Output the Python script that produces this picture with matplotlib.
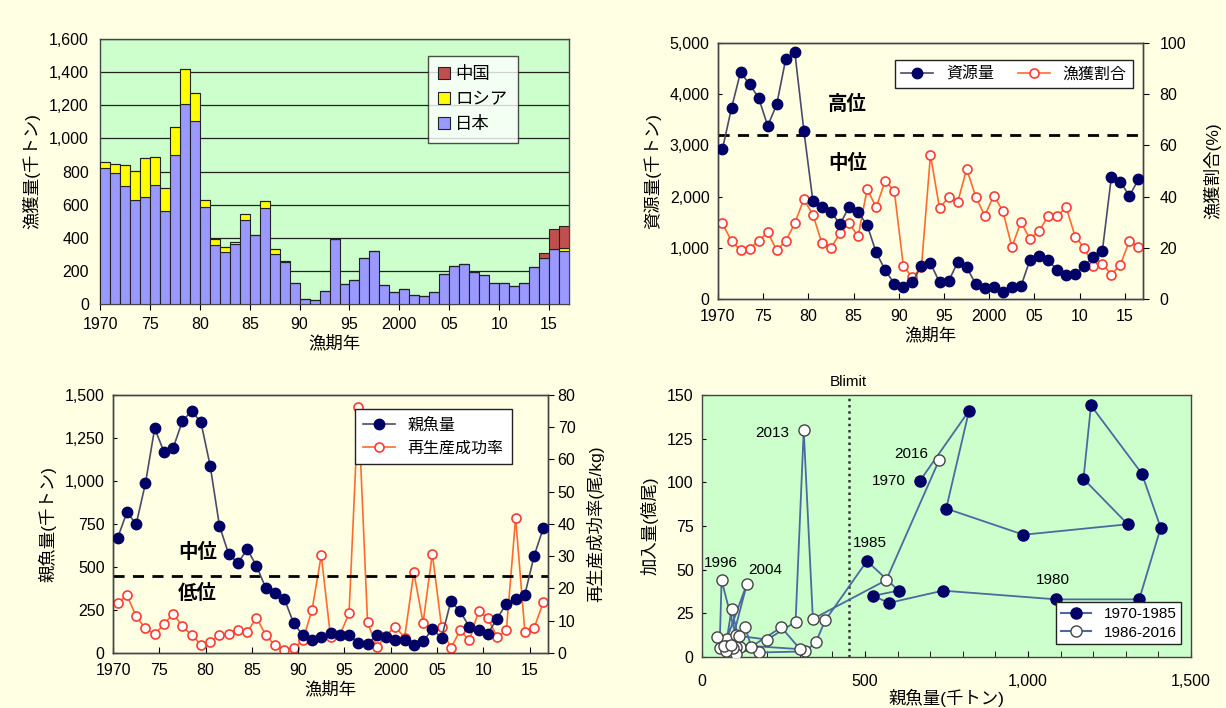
import numpy as np
import matplotlib
matplotlib.use('Agg')
import matplotlib.pyplot as plt
from matplotlib.ticker import FuncFormatter, MultipleLocator

plt.rcParams['font.family'] = ['Liberation Sans', 'Noto Sans CJK JP']
plt.rcParams['font.size'] = 11.5

years = np.arange(1970, 2017)
year_ticks = [1970, 1975, 1980, 1985, 1990, 1995, 2000, 2005, 2010, 2015]
year_labels = ['1970', '75', '80', '85', '90', '95', '2000', '05', '10', '15']

# catch (千トン)
catch_japan = [820, 790, 714, 629, 649, 716, 563, 902, 1206, 1103,
               587, 354, 316, 364, 508, 416, 577, 300, 253, 127,
               32, 26, 80, 394, 121, 145, 275, 320, 115, 74,
               92, 52, 46, 74, 181, 227, 241, 191, 173, 127,
               127, 107, 127, 221, 277, 332, 322]
catch_russia = [40, 56, 126, 177, 231, 172, 140, 165, 213, 169,
                44, 40, 28, 12, 35, 2, 46, 30, 6, 0,
                0, 0, 0, 0, 0, 0, 0, 0, 0, 0,
                0, 0, 0, 0, 0, 0, 0, 0, 0, 0,
                0, 0, 0, 0, 0, 3, 18]
catch_china = [0] * 44 + [30, 120, 132]

# stock biomass (千トン) and catch ratio (%)
biomass = [2930, 3730, 4430, 4190, 3930, 3380, 3800, 4690, 4820, 3290,
           1910, 1800, 1700, 1460, 1800, 1700, 1440, 910, 560, 300,
           235, 325, 650, 700, 325, 345, 715, 625, 290, 215,
           225, 135, 235, 245, 765, 830, 755, 570, 475, 495,
           635, 820, 930, 2380, 2290, 2010, 2340]
catch_rate = [29.5, 22.6, 19.0, 19.7, 22.7, 26.1, 19.0, 22.7, 29.6, 39.0,
              32.9, 21.8, 20.1, 25.6, 29.6, 24.5, 42.9, 35.8, 46.2, 42.1,
              12.9, 8.4, 12.5, 56.2, 35.5, 39.7, 37.7, 50.8, 40.0, 32.5,
              40.4, 34.4, 20.3, 30.0, 23.5, 26.5, 32.3, 32.3, 35.8, 24.4,
              19.9, 12.9, 13.8, 9.5, 13.4, 22.7, 20.3]

# spawning stock (千トン) and RPS (尾/kg)
ssb = [669, 819, 749, 986, 1306, 1170, 1193, 1349, 1407, 1341,
       1087, 739, 574, 524, 603, 506, 378, 349, 316, 175,
       103, 76, 91, 117, 103, 103, 60, 54, 103, 95,
       74, 74, 45, 68, 138, 89, 301, 243, 151, 132,
       113, 200, 287, 312, 340, 565, 728]
rps = [15.5, 17.9, 11.4, 7.6, 5.8, 8.9, 12.2, 8.3, 5.5, 2.6,
       3.4, 5.5, 5.8, 7.2, 6.5, 11.0, 5.5, 2.4, 1.0, 1.5,
       3.9, 13.3, 30.3, 5.0, 5.5, 12.3, 76.2, 9.5, 1.8, 5.4,
       8.2, 4.7, 25.0, 9.4, 30.8, 8.0, 1.5, 7.0, 3.9, 13.0,
       10.7, 5.0, 7.0, 41.9, 6.4, 7.8, 15.8]

# recruitment (億尾)
recruit = [101, 141, 85, 70, 76, 102, 144, 105, 74, 33,
           33, 38, 31, 35, 38, 55, 21, 8.4, 3.2, 2.6,
           4.0, 10.1, 27.6, 5.9, 5.7, 12.7, 44, 5.1, 1.9, 5.1,
           6.1, 3.5, 11.3, 6.4, 42, 7.1, 4.5, 17, 5.9, 17.2,
           12.1, 10, 20.1, 130, 21.8, 44, 113]

level_biomass = 3200
blimit = 450

# scatter annotations: label, x, y
scatter_labels = [('1996', 58, 54), ('2004', 194, 50), ('2013', 215, 128),
                  ('2016', 641, 116), ('1970', 573, 101), ('1985', 516, 65),
                  ('1980', 1076, 44)]

NAVY = '#000066'
NAVY_LINE = '#4a4a6a'
RED = '#ff3b2f'
RED_LINE = '#ff6a30'
GREEN_BG = '#ccffcc'
YELLOW_BG = '#ffff99'
LABEL_SIZE = 12.5

comma = FuncFormatter(lambda v, p: f'{int(v):,}')


def year_axis(ax):
    ax.set_xlim(1970, 2017)
    ax.set_xticks(year_ticks)
    ax.set_xticklabels(year_labels)
    ax.set_xlabel('漁期年', labelpad=2, fontsize=LABEL_SIZE)


def style_spines(ax):
    for s in ax.spines.values():
        s.set_color('#444444')
        s.set_linewidth(1.0)


fig = plt.figure(figsize=(12.26, 7.08), dpi=100)
fig.patch.set_facecolor('#ffffe4')

# ---- panel 1: catch
ax1 = fig.add_axes([0.0816, 0.5706, 0.3825, 0.3743])
ax1.set_facecolor(GREEN_BG)
jp = np.array(catch_japan)
ru = np.array(catch_russia)
cn = np.array(catch_china)
ax1.bar(years, jp, width=1, align='edge', color='#9999ff', edgecolor='#222222', linewidth=0.8, label='日本', zorder=3)
ax1.bar(years, ru, bottom=jp, width=1, align='edge', color='#ffff00', edgecolor='#222222', linewidth=0.8, label='ロシア', zorder=3)
ax1.bar(years, cn, bottom=jp + ru, width=1, align='edge', color='#c0504d', edgecolor='#222222', linewidth=0.8, label='中国', zorder=3)
ax1.set_ylim(0, 1600)
ax1.set_yticks(range(0, 1601, 200))
ax1.yaxis.set_major_formatter(comma)
ax1.yaxis.grid(True, color='#222222', linewidth=0.9, zorder=0)
ax1.tick_params(axis='y', length=0, pad=8)
ax1.tick_params(axis='x', direction='out', length=4, pad=5)
year_axis(ax1)
ax1.set_ylabel('漁獲量(千トン)', labelpad=6, fontsize=LABEL_SIZE)
h, l = ax1.get_legend_handles_labels()
ax1.legend(h[::-1], l[::-1], loc='upper left', bbox_to_anchor=(0.68, 0.97), frameon=True, fancybox=False,
           edgecolor='#222222', handlelength=0.7, handleheight=0.7, handletextpad=0.3,
           labelspacing=0.55, fontsize=12.5, borderpad=0.6)
style_spines(ax1)

# ---- panel 2: biomass and catch ratio
ax2 = fig.add_axes([0.5856, 0.5777, 0.3467, 0.3616])
xs = years + 0.5
ax2.axhline(level_biomass, color='black', linestyle=(0, (4, 3)), linewidth=2, zorder=2)
l1, = ax2.plot(xs, biomass, color=NAVY_LINE, linewidth=1.2, marker='o', markersize=7.5,
               markerfacecolor=NAVY, markeredgecolor=NAVY, zorder=4, label='資源量')
ax2.set_ylim(0, 5000)
ax2.set_yticks(range(0, 5001, 1000))
ax2.yaxis.set_major_formatter(comma)
ax2.tick_params(axis='y', direction='in', length=3, pad=6)
ax2.tick_params(axis='x', direction='in', length=4, pad=7)
year_axis(ax2)
ax2.set_ylabel('資源量(千トン)', labelpad=6, fontsize=LABEL_SIZE)
ax2.text(1984.3, 3800, '高位', fontsize=14, fontweight='bold', ha='center', va='center')
ax2.text(1984.3, 2650, '中位', fontsize=14, fontweight='bold', ha='center', va='center')
ax2r = ax2.twinx()
l2, = ax2r.plot(xs, catch_rate, color=RED_LINE, linewidth=1.2, marker='o', markersize=6.5,
                markerfacecolor='white', markeredgecolor=RED, markeredgewidth=1.2, zorder=3, label='漁獲割合')
ax2r.set_ylim(0, 100)
ax2r.set_yticks(range(0, 101, 20))
ax2r.tick_params(axis='y', direction='out', length=4, pad=8)
ax2r.set_ylabel('漁獲割合(%)', labelpad=12, fontsize=LABEL_SIZE)
ax2.set_zorder(ax2r.get_zorder() + 1)
ax2.patch.set_visible(False)
ax2r.set_facecolor(YELLOW_BG)
ax2.legend([l1, l2], ['資源量', '漁獲割合'], loc='upper right', bbox_to_anchor=(0.995, 0.965), ncol=2,
           frameon=True, fancybox=False, edgecolor='#222222', framealpha=1, fontsize=11.5,
           handlelength=2.0, columnspacing=1.5, borderpad=0.4)
style_spines(ax2)
style_spines(ax2r)

# ---- panel 3: spawning stock and RPS
ax3 = fig.add_axes([0.0922, 0.0777, 0.3548, 0.3644])
ax3r = ax3.twinx()
ax3r.set_facecolor(YELLOW_BG)
ax3.axhline(blimit, color='black', linestyle=(0, (4, 3)), linewidth=2, zorder=2)
l3, = ax3.plot(xs, ssb, color=NAVY_LINE, linewidth=1.2, marker='o', markersize=7.5,
               markerfacecolor=NAVY, markeredgecolor=NAVY, zorder=4, label='親魚量')
l4, = ax3r.plot(xs, rps, color=RED_LINE, linewidth=1.2, marker='o', markersize=6.5,
                markerfacecolor='white', markeredgecolor=RED, markeredgewidth=1.2, zorder=3, label='再生産成功率')
ax3.set_ylim(0, 1500)
ax3.set_yticks(range(0, 1501, 250))
ax3.yaxis.set_major_formatter(comma)
ax3.tick_params(axis='y', direction='in', length=3, pad=6)
ax3.tick_params(axis='x', direction='in', length=4, pad=7)
year_axis(ax3)
ax3.set_ylabel('親魚量(千トン)', labelpad=6, fontsize=LABEL_SIZE)
ax3.text(1979.1, 582, '中位', fontsize=14, fontweight='bold', ha='center', va='center')
ax3.text(1979.1, 345, '低位', fontsize=14, fontweight='bold', ha='center', va='center')
ax3r.set_ylim(0, 80)
ax3r.set_yticks(range(0, 81, 10))
ax3r.tick_params(axis='y', direction='out', length=4, pad=3)
ax3r.set_ylabel('再生産成功率(尾/kg)', labelpad=8, fontsize=LABEL_SIZE)
ax3.set_zorder(ax3r.get_zorder() + 1)
ax3.patch.set_visible(False)
ax3.legend([l3, l4], ['親魚量', '再生産成功率'], loc='upper right', bbox_to_anchor=(0.935, 0.975),
           frameon=True, fancybox=False, edgecolor='#222222', framealpha=1, fontsize=11.5,
           handlelength=2.0, labelspacing=0.5, borderpad=0.5)
style_spines(ax3)
style_spines(ax3r)

# ---- panel 4: stock-recruitment
ax4 = fig.add_axes([0.5726, 0.0720, 0.3989, 0.3701])
ax4.set_facecolor(GREEN_BG)
ax4.axvline(blimit, color='#333333', linestyle=(0, (1, 1.5)), linewidth=1.8, zorder=1)
ax4.plot(ssb[15:], recruit[15:], color='#4a6aa0', linewidth=1.3, zorder=2)
ax4.plot(ssb[:16], recruit[:16], color='#4a6aa0', linewidth=1.3, zorder=2)
ax4.plot(ssb[:16], recruit[:16], linestyle='none', marker='o', markersize=8,
         markerfacecolor=NAVY, markeredgecolor=NAVY, zorder=4)
ax4.plot(ssb[16:], recruit[16:], linestyle='none', marker='o', markersize=8,
         markerfacecolor='white', markeredgecolor='#444444', markeredgewidth=1.0, zorder=3)
h1, = ax4.plot([], [], color='#4a6aa0', marker='o', markersize=8, markerfacecolor=NAVY, markeredgecolor=NAVY)
h2, = ax4.plot([], [], color='#4a6aa0', marker='o', markersize=8, markerfacecolor='white', markeredgecolor='#444444')
ax4.legend([h1, h2], ['1970-1985', '1986-2016'], loc='lower right', bbox_to_anchor=(0.995, 0.02),
           frameon=True, fancybox=False, edgecolor='#222222', framealpha=1, fontsize=11,
           handlelength=2.0, labelspacing=0.3, borderpad=0.3)
for lab, lx, ly in scatter_labels:
    ax4.text(lx, ly, lab, fontsize=11, ha='center', va='center', zorder=5)
ax4.text(blimit, 157.5, 'Blimit', fontsize=11, ha='center', va='center', clip_on=False)
ax4.set_xlim(0, 1500)
ax4.set_ylim(0, 150)
ax4.set_xticks([0, 500, 1000, 1500])
ax4.xaxis.set_minor_locator(MultipleLocator(100))
ax4.xaxis.set_major_formatter(comma)
ax4.set_yticks(range(0, 151, 25))
ax4.tick_params(axis='x', which='both', direction='in', length=4, pad=12)
ax4.tick_params(axis='y', direction='in', length=3, pad=6)
ax4.set_xlabel('親魚量(千トン)', labelpad=0, fontsize=LABEL_SIZE)
ax4.set_ylabel('加入量(億尾)', labelpad=6, fontsize=LABEL_SIZE)
style_spines(ax4)

fig.savefig('out.png', dpi=100, facecolor=fig.get_facecolor())
